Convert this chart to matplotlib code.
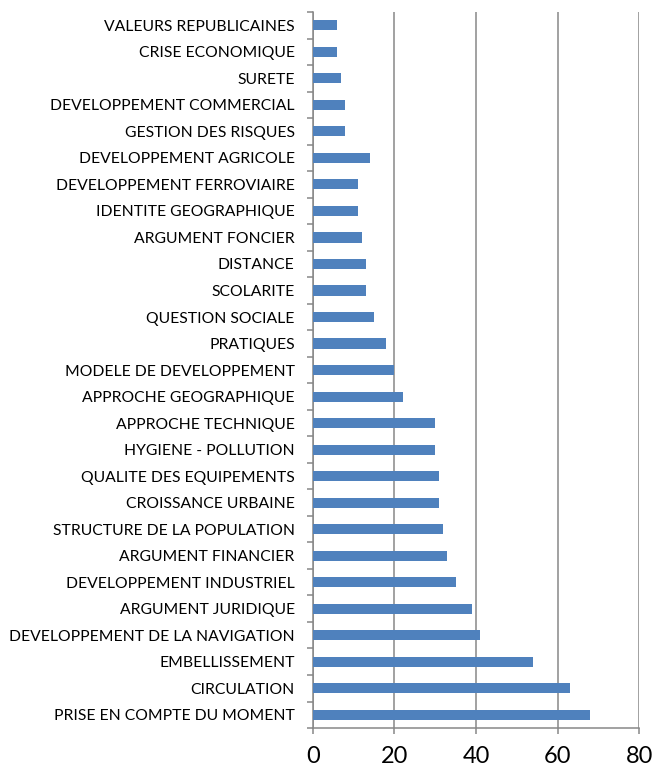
import matplotlib
matplotlib.use('Agg')
import matplotlib.pyplot as plt
import numpy as np

# categories listed bottom to top
themes = [
    'PRISE EN COMPTE DU MOMENT', 'CIRCULATION', 'EMBELLISSEMENT',
    'DEVELOPPEMENT DE LA NAVIGATION', 'ARGUMENT JURIDIQUE',
    'DEVELOPPEMENT INDUSTRIEL', 'ARGUMENT FINANCIER',
    'STRUCTURE DE LA POPULATION', 'CROISSANCE URBAINE',
    'QUALITE DES EQUIPEMENTS', 'HYGIENE - POLLUTION', 'APPROCHE TECHNIQUE',
    'APPROCHE GEOGRAPHIQUE', 'MODELE DE DEVELOPPEMENT', 'PRATIQUES',
    'QUESTION SOCIALE', 'SCOLARITE', 'DISTANCE', 'ARGUMENT FONCIER',
    'IDENTITE GEOGRAPHIQUE', 'DEVELOPPEMENT FERROVIAIRE',
    'DEVELOPPEMENT AGRICOLE', 'GESTION DES RISQUES',
    'DEVELOPPEMENT COMMERCIAL', 'SURETE', 'CRISE ECONOMIQUE',
    'VALEURS REPUBLICAINES',
]
counts = [68, 63, 54, 41, 39, 35, 33, 32, 31, 31, 30, 30, 22, 20, 18,
          15, 13, 13, 12, 11, 11, 14, 8, 8, 7, 6, 6]
xticks = [0, 20, 40, 60, 80]

plt.rcParams['font.family'] = ['Lato', 'DejaVu Sans']
grey = '#878787'

fig = plt.figure(figsize=(6.57, 7.74), dpi=100)
ax = fig.add_axes([0.476, 0.0594, 0.497, 0.925])

ypos = np.arange(len(themes))
ax.barh(ypos, counts, height=0.38, color='#4F81BD', zorder=3)

ax.set_xlim(0, 80)
ax.set_ylim(-0.5, len(themes) - 0.5)
ax.set_xticks(xticks)
ax.set_xticklabels([str(v) for v in xticks], fontsize=17)
ax.set_yticks(ypos)
ax.set_yticklabels(themes, fontsize=11.3)
ax.set_yticks(np.arange(len(themes) + 1) - 0.5, minor=True)

ax.grid(axis='x', color=grey, linewidth=1.1, zorder=0)
ax.spines['top'].set_visible(False)
ax.spines['right'].set_visible(False)
ax.spines['left'].set_color(grey)
ax.spines['bottom'].set_color(grey)
ax.spines['left'].set_linewidth(1.1)
ax.spines['bottom'].set_linewidth(1.1)

ax.tick_params(axis='y', which='major', length=0, pad=13)
ax.tick_params(axis='y', which='minor', length=4, width=1.1, color=grey)
ax.tick_params(axis='x', length=4, width=1.1, color=grey, pad=9)

fig.savefig('out.png', dpi=100)
